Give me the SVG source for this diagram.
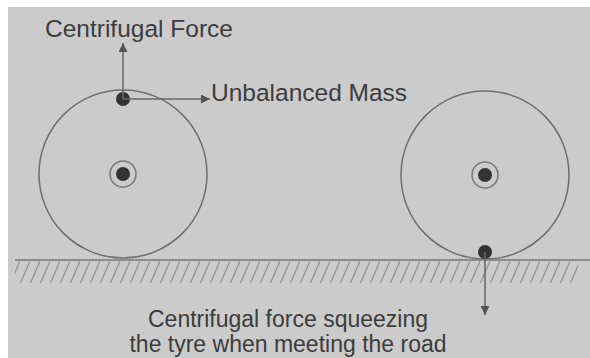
<svg xmlns="http://www.w3.org/2000/svg" width="590" height="358" viewBox="0 0 590 358">
<defs>
<style>
.txt{font-family:"Liberation Sans",Arial,sans-serif;fill:#3c3c3c}
.wheel{fill:none;stroke:#6e6e6e;stroke-width:1.5}
.hub{fill:none;stroke:#7a7a7a;stroke-width:1.6}
.dot{fill:#333}
.arr{stroke:#6a6a6a;stroke-width:1.6;fill:none}
.hatch{stroke:#8f8f8f;stroke-width:1.1}
</style>
<marker id="ah" viewBox="0 0 10 10" refX="10" refY="5" markerWidth="9" markerHeight="9" markerUnits="userSpaceOnUse" orient="auto">
<path d="M0,0 L10,5 L0,10 z" fill="#555"/>
</marker>
<pattern id="hp" x="0" y="261" width="10" height="23" patternUnits="userSpaceOnUse">
<line x1="0" y1="23" x2="10" y2="0" class="hatch"/>
</pattern>
</defs>
<rect x="0" y="0" width="590" height="358" fill="#ffffff"/>
<rect x="8" y="7" width="582" height="351" fill="#cbcbcb"/>
<g id="ground">
<rect x="15" y="261" width="563" height="22" fill="url(#hp)"/>
<line x1="15" y1="260" x2="590" y2="260" stroke="#777" stroke-width="1.6"/>
</g>
<g id="wheel-left">
<circle cx="123" cy="174" r="84" class="wheel"/>
<circle cx="123" cy="174" r="13" class="hub"/>
<circle cx="123" cy="174" r="7" class="dot"/>
<circle cx="123" cy="99" r="7" class="dot"/>
</g>
<g id="wheel-right">
<circle cx="485" cy="175" r="84" class="wheel"/>
<circle cx="485" cy="175" r="13" class="hub"/>
<circle cx="485" cy="175" r="7" class="dot"/>
<circle cx="485" cy="252" r="7" class="dot"/>
</g>
<g id="connectors">
<line x1="123" y1="99" x2="123" y2="43" class="arr" marker-end="url(#ah)"/>
<line x1="123" y1="99" x2="210" y2="99" class="arr" marker-end="url(#ah)"/>
<line x1="485" y1="252" x2="485" y2="315" class="arr" marker-end="url(#ah)"/>
</g>
<g id="label-centrifugal">
<text x="45" y="37" class="txt" font-size="24.5">Centrifugal Force</text>
</g>
<g id="label-unbalanced">
<text x="211" y="101" class="txt" font-size="24.5">Unbalanced Mass</text>
</g>
<g id="label-squeeze">
<text x="288" y="327" class="txt" font-size="23" text-anchor="middle">Centrifugal force squeezing</text>
<text x="288" y="352" class="txt" font-size="23" text-anchor="middle">the tyre when meeting the road</text>
</g>
</svg>
